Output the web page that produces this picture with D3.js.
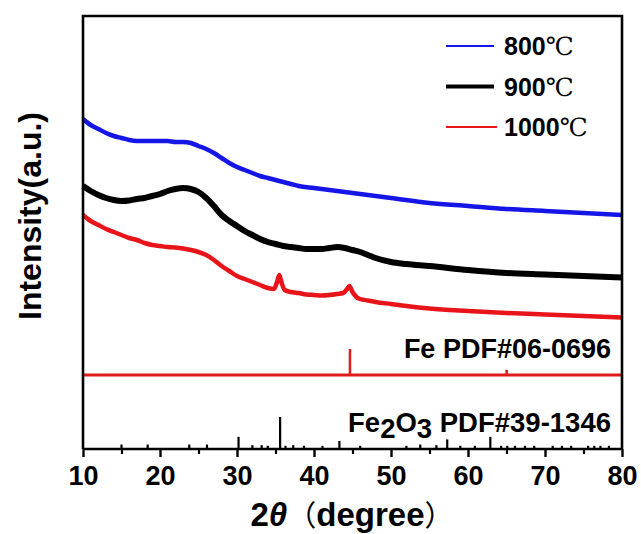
<!DOCTYPE html>
<html>
<head>
<meta charset="utf-8">
<script src="https://cdn.jsdelivr.net/npm/d3@7"></script>
<style>
  html, body { margin: 0; padding: 0; background: #fff; }
  svg { display: block; }
  .sans { font-family: Arial, "Liberation Sans", sans-serif; font-weight: bold; }
</style>
</head>
<body>
<svg id="chart" width="641" height="534"></svg>
<script>
// XRD patterns (2θ in degrees, intensity in arbitrary units)
const twoTheta800 = [10,11,12,13,14,15,16,17,18,19,20,21,22,23,24,25,26,27,28,29,30,31,32,33,34,35,36,37,38,40,42,44,46,48,50,55,60,65,70,75,80];
const int800 =      [330,324,320,316,313,311,309,308,308,308,308,308,307,307,306,303,300,296,291,286,282,279,276,273,271,269,267,265,263,261,259,257,255,253,251,246,243,240,238,236,234];

const twoTheta900 = [10,11,12,13,14,15,16,17,18,19,20,21,22,23,24,25,26,27,28,29,30,31,32,33,34,35,36,37,38,39,40,41,42,43,44,45,46,47,48,50,52,55,60,65,70,75,80];
const int900 =      [263,258,254,251,249,248,248.5,250,251,253,255,258,260,261,260,257,251,243,234,228,223,218,214,210,207,205,203,202,201,200,200,200,201,202,201,199,197,194,191,187,185,183,179,176,174.5,173,171.5];

const twoTheta1000 = [10,11,12,13,14,15,16,17,18,19,20,21,22,23,24,25,26,27,28,29,30,31,32,33,34,34.8,35.2,35.5,35.8,36.2,37,38,39,40,41,42,43,43.8,44.3,44.6,45.0,45.5,46,47,48,50,52,55,60,65,70,75,80];
const int1000 =      [234,228,224,220,217,214,211,209,206,204,203,202,201.5,200.5,199,197,194,189,183,178,173,170,167,164,161,160,167,174,166,159,157,156,154.5,154,153.5,154,155,156,160,163,157,152,150,148.5,147,145,143,140.5,138,136,134.5,133,131.5];

const seriesNames = ["800℃", "900℃", "1000℃"];
const seriesTemps = ["800", "900", "1000"];
const seriesColors = ["#1515e8", "#000000", "#e8141a"];

// Standard reference patterns (2θ, relative intensity %)
const feRefLabel = "Fe PDF#06-0696";
const feRefTheta = [44.67, 65.02];
const feRefInt   = [100, 20];
const feRefBaseline = 74;      // offset of the Fe stick pattern (a.u.)

const fe2o3RefTheta = [15.0, 18.4, 23.8, 26.1, 30.2, 32.0, 33.2, 34.0, 35.6, 36.3, 37.3, 38.7, 41.1, 43.3, 46.0, 52.0, 53.8, 55.9, 57.3, 59.0, 60.9, 62.9, 64.3, 65.1, 66.1, 67.4, 68.6, 71.0, 72.2, 73.4, 75.6, 76.4, 77.2, 78.3];
const fe2o3RefInt   = [14, 14, 14, 14, 38, 12, 12, 10, 100, 10, 12, 10, 10, 25, 10, 10, 14, 12, 30, 10, 10, 38, 10, 10, 10, 10, 10, 10, 10, 10, 10, 10, 10, 10];

const xTicks = [10, 20, 30, 40, 50, 60, 70, 80];
const xMinorTicks = [15, 25, 35, 45, 55, 65, 75];

const svg = d3.select("#chart");
const plotLeft = 83, plotRight = 622, plotTop = 16, plotBottom = 449;

const x = d3.scaleLinear().domain([10, 80]).range([plotLeft, plotRight]);
const y = d3.scaleLinear().domain([0, plotBottom - plotTop]).range([plotBottom, plotTop]);
const feStick = d3.scaleLinear().domain([0, 100]).range([0, 26]);
const fe2o3Stick = d3.scaleLinear().domain([0, 100]).range([0, 32]);

const line = d3.line()
  .x(d => x(d[0]))
  .y(d => y(d[1]))
  .curve(d3.curveMonotoneX);

const seriesData = [
  d3.zip(twoTheta800, int800),
  d3.zip(twoTheta900, int900),
  d3.zip(twoTheta1000, int1000)
];
const strokeWidths = [4.5, 6, 4.5];

// Measured patterns
seriesData.forEach((data, i) => {
  svg.append("path")
    .datum(data)
    .attr("fill", "none")
    .attr("stroke", seriesColors[i])
    .attr("stroke-width", strokeWidths[i])
    .attr("stroke-linejoin", "round")
    .attr("d", line);
});

// Fe reference: baseline plus sticks
svg.append("line")
  .attr("x1", x(10)).attr("x2", x(80))
  .attr("y1", y(feRefBaseline)).attr("y2", y(feRefBaseline))
  .attr("stroke", "#dd1c1c").attr("stroke-width", 3);
svg.selectAll(".fe-stick")
  .data(d3.zip(feRefTheta, feRefInt))
  .join("line")
  .attr("class", "fe-stick")
  .attr("x1", d => x(d[0])).attr("x2", d => x(d[0]))
  .attr("y1", y(feRefBaseline))
  .attr("y2", d => y(feRefBaseline + feStick(d[1])))
  .attr("stroke", "#dd1c1c").attr("stroke-width", 2.5);

// Fe2O3 reference sticks standing on the axis
svg.selectAll(".fe2o3-stick")
  .data(d3.zip(fe2o3RefTheta, fe2o3RefInt))
  .join("line")
  .attr("class", "fe2o3-stick")
  .attr("x1", d => x(d[0])).attr("x2", d => x(d[0]))
  .attr("y1", y(0))
  .attr("y2", d => y(fe2o3Stick(d[1])))
  .attr("stroke", "#000").attr("stroke-width", 2.2);

// Frame (left, top, right)
svg.append("path")
  .attr("d", `M${plotLeft},${plotBottom} V${plotTop} H${plotRight} V${plotBottom}`)
  .attr("fill", "none")
  .attr("stroke", "#000")
  .attr("stroke-width", 2.6);

// Bottom axis
const xAxis = d3.axisBottom(x)
  .tickValues(xTicks)
  .tickSize(8)
  .tickPadding(0)
  .tickFormat(d3.format("d"));
const gx = svg.append("g")
  .attr("transform", `translate(0,${plotBottom})`)
  .call(xAxis);
gx.select(".domain").attr("stroke-width", 2.6).attr("d", `M${plotLeft},0H${plotRight}`);
gx.selectAll(".tick line").attr("stroke-width", 2.4);
gx.selectAll(".tick text")
  .attr("class", "sans")
  .attr("y", 36).attr("dy", 0)
  .attr("font-size", 27)
  .attr("fill", "#000");

const minorAxis = d3.axisBottom(x).tickValues(xMinorTicks).tickSize(5).tickFormat("");
const gm = svg.append("g")
  .attr("transform", `translate(0,${plotBottom})`)
  .call(minorAxis);
gm.select(".domain").remove();
gm.selectAll(".tick line").attr("stroke-width", 2.2);

// Axis titles
const xTitle = svg.append("text")
  .attr("class", "sans")
  .attr("x", 352).attr("y", 526)
  .attr("text-anchor", "middle")
  .attr("font-size", 33)
  .attr("fill", "#000");
xTitle.append("tspan").text("2");
xTitle.append("tspan").attr("font-style", "italic").text("θ");
xTitle.append("tspan").attr("font-family", "'Noto Sans CJK SC', sans-serif").attr("font-weight", "normal").attr("font-size", 29).text("（");
xTitle.append("tspan").text("degree");
xTitle.append("tspan").attr("font-family", "'Noto Sans CJK SC', sans-serif").attr("font-weight", "normal").attr("font-size", 29).text("）");

svg.append("text")
  .attr("class", "sans")
  .attr("transform", "translate(41,216) rotate(-90)")
  .attr("text-anchor", "middle")
  .attr("font-size", 32)
  .attr("fill", "#000")
  .text("Intensity(a.u.)");

// Reference pattern labels
svg.append("text")
  .attr("class", "sans")
  .attr("x", 611).attr("y", 358)
  .attr("text-anchor", "end")
  .attr("font-size", 27)
  .attr("fill", "#000")
  .text(feRefLabel);

const fe2o3Label = svg.append("text")
  .attr("class", "sans")
  .attr("x", 611).attr("y", 432)
  .attr("text-anchor", "end")
  .attr("font-size", 27.5)
  .attr("fill", "#000");
fe2o3Label.append("tspan").text("Fe");
fe2o3Label.append("tspan").attr("dy", 6).text("2");
fe2o3Label.append("tspan").attr("dy", -6).text("O");
fe2o3Label.append("tspan").attr("dy", 6).text("3");
fe2o3Label.append("tspan").attr("dy", -6).text(" PDF#39-1346");

// Legend
const legend = svg.append("g");
seriesNames.forEach((name, i) => {
  const ly = 46 + i * 40.5;
  legend.append("line")
    .attr("x1", 446).attr("x2", i === 2 ? 497 : 494)
    .attr("y1", ly).attr("y2", ly)
    .attr("stroke", seriesColors[i])
    .attr("stroke-width", i === 1 ? 4 : 2.2);
  const t = legend.append("text")
    .attr("x", 504).attr("y", ly + 9)
    .attr("font-size", 25)
    .attr("fill", "#000");
  t.append("tspan").attr("class", "sans").text(seriesTemps[i]);
  t.append("tspan")
    .attr("font-family", "'DejaVu Serif', 'Liberation Serif', serif")
    .attr("font-weight", "normal")
    .attr("font-size", 25)
    .text("℃");
});
</script>
</body>
</html>
